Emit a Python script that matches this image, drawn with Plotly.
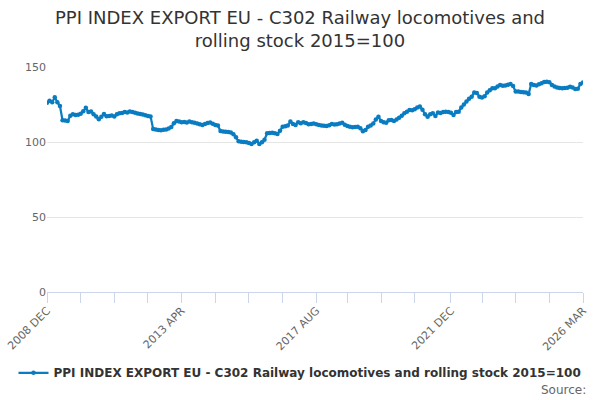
import plotly.graph_objects as go

title = "PPI INDEX EXPORT EU - C302 Railway locomotives and<br>rolling stock 2015=100"
series_name = "PPI INDEX EXPORT EU - C302 Railway locomotives and rolling stock 2015=100"

month_names = ["JAN", "FEB", "MAR", "APR", "MAY", "JUN",
               "JUL", "AUG", "SEP", "OCT", "NOV", "DEC"]

# index values, monthly from 2008 DEC to 2026 MAR
values = [
    126.2, 127.5, 126.5, 129.8, 126.5, 124.0, 114.5, 114.3, 114.0, 117.5, 118.5, 118.0,
    118.2, 118.8, 120.5, 122.8, 120.0, 120.3, 118.5, 117.0, 115.2, 116.8, 118.6, 117.2,
    117.3, 117.6, 117.0, 118.5, 119.2, 119.4, 120.0, 119.6, 120.3, 120.0, 119.5, 119.0,
    118.7, 118.3, 117.8, 117.3, 117.0, 108.7, 108.3, 108.0, 107.8, 108.2, 108.4, 109.0,
    110.0, 112.5, 114.0, 113.6, 113.2, 113.4, 113.0, 113.7, 113.2, 112.8, 112.4, 111.8,
    111.3, 112.0, 112.6, 113.0, 112.2, 111.3, 111.0, 107.3, 107.0, 106.9, 106.6, 106.4,
    105.2, 103.2, 100.5, 100.2, 100.0, 99.8, 99.4, 98.7, 99.8, 100.9, 98.7, 99.8,
    101.5, 105.8, 106.0, 106.2, 105.8, 105.3, 107.5, 110.2, 110.5, 111.0, 113.6, 112.0,
    111.3, 113.1, 112.5, 113.1, 112.6, 111.8, 112.0, 112.4, 111.8, 111.3, 111.0, 110.8,
    110.7, 111.2, 112.0, 111.6, 111.8, 112.3, 112.9, 111.5, 110.7, 110.2, 109.8, 110.0,
    110.2, 109.2, 107.2, 108.0, 110.2, 111.0, 112.4, 115.0, 116.9, 114.0, 113.2, 112.9,
    114.5, 114.7, 114.0, 115.0, 116.2, 117.5, 119.1, 120.2, 121.3, 121.2, 121.8, 123.0,
    123.6, 121.5, 118.5, 116.9, 118.5, 119.1, 117.3, 119.6, 119.4, 120.0, 120.2, 120.0,
    119.5, 118.0, 120.0, 120.2, 123.0, 125.0, 127.0, 128.8, 130.2, 133.0, 132.6, 130.2,
    129.6, 130.5, 133.0, 134.5, 135.8, 135.8, 137.0, 138.0, 137.5, 137.6, 138.2, 138.7,
    137.3, 133.6, 133.6, 133.4, 133.2, 133.0, 132.0, 138.7, 138.0, 137.6, 138.5, 139.1,
    140.0, 140.2, 139.8, 138.0, 137.0, 136.4, 136.0, 135.8, 136.0, 136.2, 136.9, 136.4,
    135.3, 135.5, 138.7, 139.6,
]

# month labels like "2008 DEC"
months = []
y, m = 2008, 11
for v in values:
    months.append(f"{y} {month_names[m]}")
    m += 1
    if m == 12:
        m = 0
        y += 1

n = len(months)
tick_idx = [round(k * (n - 1) / 16) for k in range(17)]
label_idx = [0, 52, 104, 156, n - 1]
tick_idx = sorted(set(tick_idx[:12] + [156] + tick_idx[13:]))
tickvals = [months[i] for i in tick_idx]
ticktext = [months[i] if i in label_idx else "" for i in tick_idx]

fig = go.Figure()
fig.add_trace(go.Scatter(
    x=months, y=values, name=series_name,
    mode="lines+markers",
    line=dict(color="#0a7cc1", width=2.2),
    marker=dict(size=4.5, color="#0a7cc1"),
))

fig.update_layout(
    width=600, height=400,
    paper_bgcolor="white", plot_bgcolor="white",
    font=dict(family="DejaVu Sans", color="#666666", size=11),
    title=dict(text=title, x=0.5, xanchor="center", y=0.94, yanchor="middle",
               font=dict(size=18, color="#333333")),
    margin=dict(l=47, r=17, t=67, b=108, autoexpand=False),
    showlegend=True,
    legend=dict(orientation="h", xref="container", yref="container",
                x=0.5, xanchor="center", y=0.068, yanchor="middle",
                font=dict(size=12, color="#333333", family="DejaVu Sans", weight="bold"),
                itemwidth=30),
    xaxis=dict(
        type="category",
        tickmode="array", tickvals=tickvals, ticktext=ticktext,
        tickangle=-45, ticks="outside", ticklen=10, tickcolor="#ccd6eb",
        ticklabelstandoff=-3,
        showline=True, linecolor="#ccd6eb", showgrid=False,
        tickfont=dict(size=11, color="#666666"),
        range=[0, n - 1],
    ),
    yaxis=dict(
        range=[0, 150], tickvals=[0, 50, 100, 150],
        showgrid=True, gridcolor="#e6e6e6", zeroline=False,
        tickfont=dict(size=11, color="#666666"),
    ),
    annotations=[dict(text="Source:", xref="paper", yref="paper",
                      x=1.009, y=-0.435, xanchor="right", yanchor="middle",
                      showarrow=False, font=dict(size=12, color="#666666"))],
)

fig.write_html("out.html", config={"displayModeBar": False},
               post_script="document.body.style.margin='0';")
